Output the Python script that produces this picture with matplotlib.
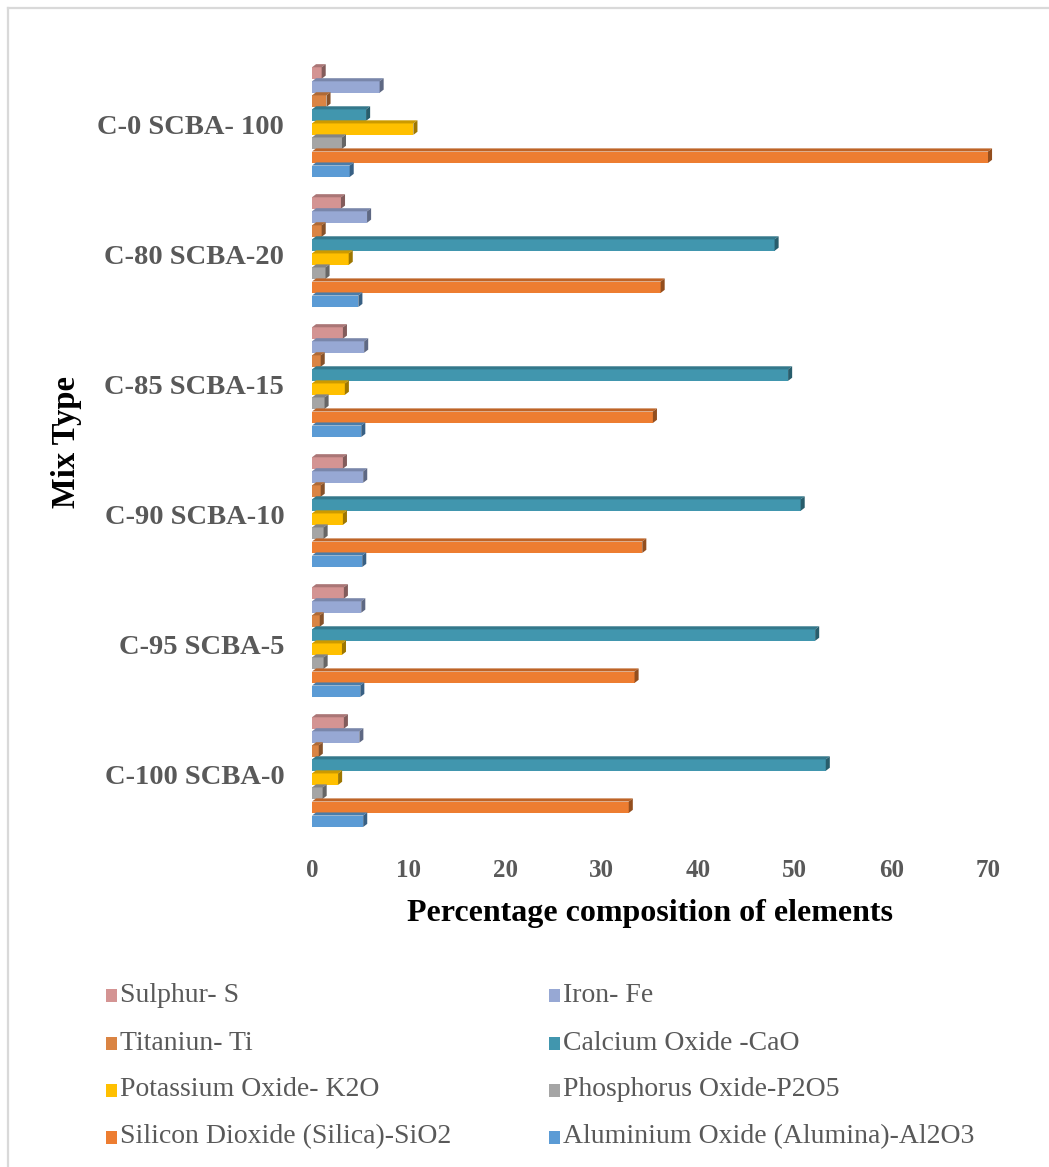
import matplotlib
matplotlib.use("Agg")
import matplotlib.pyplot as plt
from matplotlib.patches import Polygon, Rectangle
from matplotlib.lines import Line2D
import matplotlib.colors as mcolors
import numpy as np

plt.rcParams['font.family'] = ['Liberation Serif', 'DejaVu Serif']

# Mix types, bottom to top
mixes = ["C-100 SCBA-0", "C-95 SCBA-5", "C-90 SCBA-10",
         "C-85 SCBA-15", "C-80 SCBA-20", "C-0 SCBA- 100"]

# Series, drawn bottom to top inside each group
series = ["Aluminium Oxide (Alumina)-Al2O3", "Silicon Dioxide (Silica)-SiO2",
          "Phosphorus Oxide-P2O5", "Potassium Oxide- K2O",
          "Calcium Oxide -CaO", "Titaniun- Ti", "Iron- Fe", "Sulphur- S"]
colors = ["#5B9BD5", "#ED7D31", "#A5A5A5", "#FFC000",
          "#4196AE", "#DA8443", "#97A8D4", "#D49493"]

al2o3 = [5.3, 5.0, 5.2, 5.1, 4.8, 3.9]
sio2 = [32.8, 33.4, 34.2, 35.3, 36.1, 70.0]
p2o5 = [1.1, 1.2, 1.2, 1.3, 1.4, 3.1]
k2o = [2.7, 3.1, 3.2, 3.4, 3.8, 10.5]
cao = [53.2, 52.1, 50.6, 49.3, 47.9, 5.6]
ti = [0.7, 0.8, 0.9, 0.9, 1.0, 1.5]
fe = [4.9, 5.1, 5.3, 5.4, 5.7, 7.0]
s = [3.3, 3.3, 3.2, 3.2, 3.0, 1.0]
values = [al2o3, sio2, p2o5, k2o, cao, ti, fe, s]

xticks = [0, 10, 20, 30, 40, 50, 60, 70]

W, H = 1049, 1167
fig = plt.figure(figsize=(W / 100, H / 100), dpi=100)
fig.patch.set_facecolor("white")

ax = fig.add_axes([312 / W, 1 - 840 / H, (988 - 312) / W, (840 - 60) / H])
ax.set_xlim(0, 70)
ax.set_ylim(-0.5, len(mixes) - 0.5)

pitch = 0.108
h = 0.088
first = -0.356
dx = 0.42      # depth of the 3-D faces along x (data units)
dy = 0.024     # depth of the 3-D faces along y (data units)


def shade(c, f):
    r, g, b = mcolors.to_rgb(c)
    return (r * f, g * f, b * f)


ypos = np.arange(len(mixes))
n = len(values)
for i, (vals, col) in enumerate(zip(values, colors)):
    z = 3 + (n - i) * 0.1   # lower bars sit in front of the ones above
    yc = ypos + first + i * pitch
    ax.barh(yc, vals, height=h, color=col, edgecolor="none", zorder=z)
    for y, v in zip(yc, vals):
        top = y + h / 2
        bot = y - h / 2
        ax.add_patch(Polygon([(0, top), (v, top), (v + dx, top + dy), (dx, top + dy)],
                             closed=True, facecolor=shade(col, 0.8),
                             edgecolor="none", zorder=z, clip_on=False))
        ax.add_patch(Polygon([(v, bot), (v + dx, bot + dy), (v + dx, top + dy), (v, top)],
                             closed=True, facecolor=shade(col, 0.62),
                             edgecolor="none", zorder=z, clip_on=False))

for sp in ax.spines.values():
    sp.set_visible(False)
ax.set_xticks(xticks)
ax.set_xticklabels([str(t) for t in xticks], fontsize=18, fontweight="bold",
                   color="#595959")
ax.set_yticks(ypos)
ax.set_yticklabels(mixes, fontsize=20.5, fontweight="bold", color="#595959")
ax.tick_params(axis="x", length=0, pad=14)
ax.tick_params(axis="y", length=0, pad=20)
ax.set_facecolor("none")

fig.text(650 / W, 1 - 913 / H, "Percentage composition of elements",
         ha="center", va="center", fontsize=23, fontweight="bold", color="black")
fig.text(66 / W, 1 - 442 / H, "Mix Type", rotation=90,
         ha="center", va="center", fontsize=23.5, fontweight="bold", color="black")

# Legend in two columns
legend_rows = [("Sulphur- S", "Iron- Fe"),
               ("Titaniun- Ti", "Calcium Oxide -CaO"),
               ("Potassium Oxide- K2O", "Phosphorus Oxide-P2O5"),
               ("Silicon Dioxide (Silica)-SiO2", "Aluminium Oxide (Alumina)-Al2O3")]
row_y = [995, 1043, 1090, 1137]
col_x = [(106, 120), (549, 563)]
for (names, yy) in zip(legend_rows, row_y):
    for name, (mx, tx) in zip(names, col_x):
        c = colors[series.index(name)]
        fig.patches.append(Rectangle((mx / W, 1 - (yy + 7) / H), 11 / W, 13 / H,
                                     transform=fig.transFigure, facecolor=c,
                                     edgecolor="none"))
        fig.text(tx / W, 1 - yy / H, name, ha="left", va="center",
                 fontsize=20, color="#595959")

# Chart frame
fig.lines.append(Line2D([8 / W, 8 / W], [1 - 8 / H, 0], transform=fig.transFigure,
                        color="#D9D9D9", lw=1.6))
fig.lines.append(Line2D([8 / W, 1], [1 - 8 / H, 1 - 8 / H], transform=fig.transFigure,
                        color="#D9D9D9", lw=1.6))

fig.savefig("out.png", dpi=100, facecolor="white")
